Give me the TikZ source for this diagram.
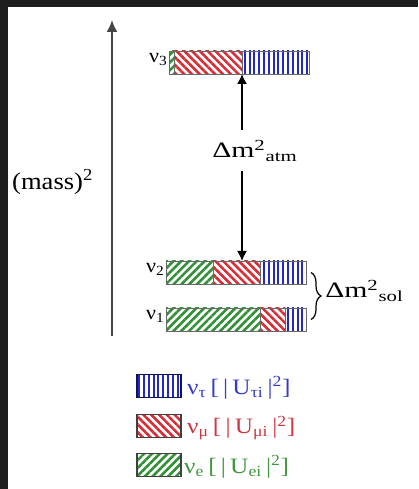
\documentclass[tikz,border=0pt]{standalone}
\usepackage{fontspec}
\setmainfont{Liberation Serif}
\usetikzlibrary{arrows.meta,positioning,calc,patterns.meta,decorations.pathreplacing}

\definecolor{framebg}{RGB}{30,30,30}
\definecolor{axisgray}{RGB}{70,70,70}
\definecolor{barline}{RGB}{105,105,105}
\definecolor{taublue}{RGB}{35,40,205}
\definecolor{mured}{RGB}{215,45,55}
\definecolor{egreen}{RGB}{50,145,55}
\definecolor{tautext}{RGB}{55,60,200}
\definecolor{mutext}{RGB}{205,55,65}
\definecolor{etext}{RGB}{65,150,65}

\tikzset{
  seg/.style={draw=barline, line width=0.8pt, inner sep=0pt, outer sep=0pt, minimum height=23pt},
  tauseg/.style={seg, pattern={Lines[angle=90,distance=4.8pt,line width=2pt]}, pattern color=taublue},
  museg/.style={seg, pattern={Lines[angle=-45,distance=5.5pt,line width=2.6pt]}, pattern color=mured},
  eseg/.style={seg, pattern={Lines[angle=45,distance=5.5pt,line width=2.6pt]}, pattern color=egreen},
  nulab/.style={font=\fontsize{20}{24}\selectfont, inner sep=0pt, anchor=base east, xscale=1.1, transform shape},
  dmlab/.style={font=\fontsize{22}{26}\selectfont, inner sep=0pt, xscale=1.35, transform shape},
  legbox/.style={line width=1.1pt, minimum width=44pt, minimum height=21pt, inner sep=0pt, outer sep=0pt, anchor=west},
  legtext/.style={font=\fontsize{22}{26}\selectfont, inner sep=0pt, anchor=west, xscale=1.15, transform shape},
}

\begin{document}
\begin{tikzpicture}[x=1pt, y=1pt, >={Latex[length=10pt,width=10pt]}]
    % Frame
    \useasboundingbox (0,0) rectangle (418,489);
    \fill[framebg] (0,0) rectangle (418,489);
    \fill[white] (8,0) rectangle (418,482);

    % Mass axis
    \coordinate (axbot) at (112,153);
    \coordinate (axtop) at (112,469);
    \draw[axisgray, line width=2pt, -{Latex[length=12pt,width=11pt]}] (axbot) -- (axtop);
    \node[dmlab, anchor=base west, font=\fontsize{24}{28}\selectfont, xscale=0.82] (mass) at (12,299) {(mass)\textsuperscript{2}};

    % nu_3
    \node[eseg, minimum width=5pt, anchor=west] (n3e) at (169,426.5) {};
    \node[museg, minimum width=68pt, right=0pt of n3e] (n3mu) {};
    \node[tauseg, minimum width=67pt, right=0pt of n3mu] (n3tau) {};
    \node[nulab] (l3) at ([xshift=-1.5pt]n3e.west) {ν\textsubscript{3}};

    % nu_2
    \node[eseg, minimum width=47pt, anchor=west] (n2e) at (166,216.5) {};
    \node[museg, minimum width=47pt, right=0pt of n2e] (n2mu) {};
    \node[tauseg, minimum width=46pt, right=0pt of n2mu] (n2tau) {};
    \node[nulab] (l2) at ([xshift=-1.5pt]n2e.west) {ν\textsubscript{2}};

    % nu_1
    \node[eseg, minimum width=94pt, anchor=west] (n1e) at (166,169.5) {};
    \node[museg, minimum width=25pt, right=0pt of n1e] (n1mu) {};
    \node[tauseg, minimum width=21pt, right=0pt of n1mu] (n1tau) {};
    \node[nulab] (l1) at ([xshift=-1.5pt]n1e.west) {ν\textsubscript{1}};

    % Atmospheric splitting
    \node[dmlab, anchor=base west, inner ysep=10pt] (atm) at (212,331) {Δm\textsuperscript{2}\textsubscript{atm}};
    \draw[->, line width=1.4pt] (atm.north -| n3tau.south west) -- (n3tau.south west);
    \draw[->, line width=1.4pt] (atm.south -| n3tau.south west) -- (n3tau.south west |- n2mu.north);

    % Solar splitting
    \draw[decorate, decoration={brace, amplitude=10pt}, line width=1.2pt]
        ([xshift=5pt]n2tau.east) -- ([xshift=5pt]n1tau.east);
    \node[dmlab, anchor=base west] (sol) at (325,191) {Δm\textsuperscript{2}\textsubscript{sol}};

    % Legend
    \node[legbox, tauseg, draw=taublue!45!black, line width=1.1pt] (ktau) at (137,103) {};
    \node[legbox, museg, draw=black!75, line width=1.1pt] (kmu) at (137,63) {};
    \node[legbox, eseg, draw=black!75, line width=1.1pt] (ke) at (137,24) {};
    \node[legtext, text=tautext, right=6pt of ktau, yshift=-2pt] (ttau) {ν\textsubscript{τ}\,[\,|\,U\textsubscript{τi}\,|\textsuperscript{2}]};
    \node[legtext, text=mutext, right=6pt of kmu, yshift=-2pt] (tmu) {ν\textsubscript{μ}\,[\,|\,U\textsubscript{μi}\,|\textsuperscript{2}]};
    \node[legtext, text=etext, right=3pt of ke, yshift=-2pt] (te) {ν\textsubscript{e}\,[\,|\,U\textsubscript{ei}\,|\textsuperscript{2}]};
\end{tikzpicture}
\end{document}
